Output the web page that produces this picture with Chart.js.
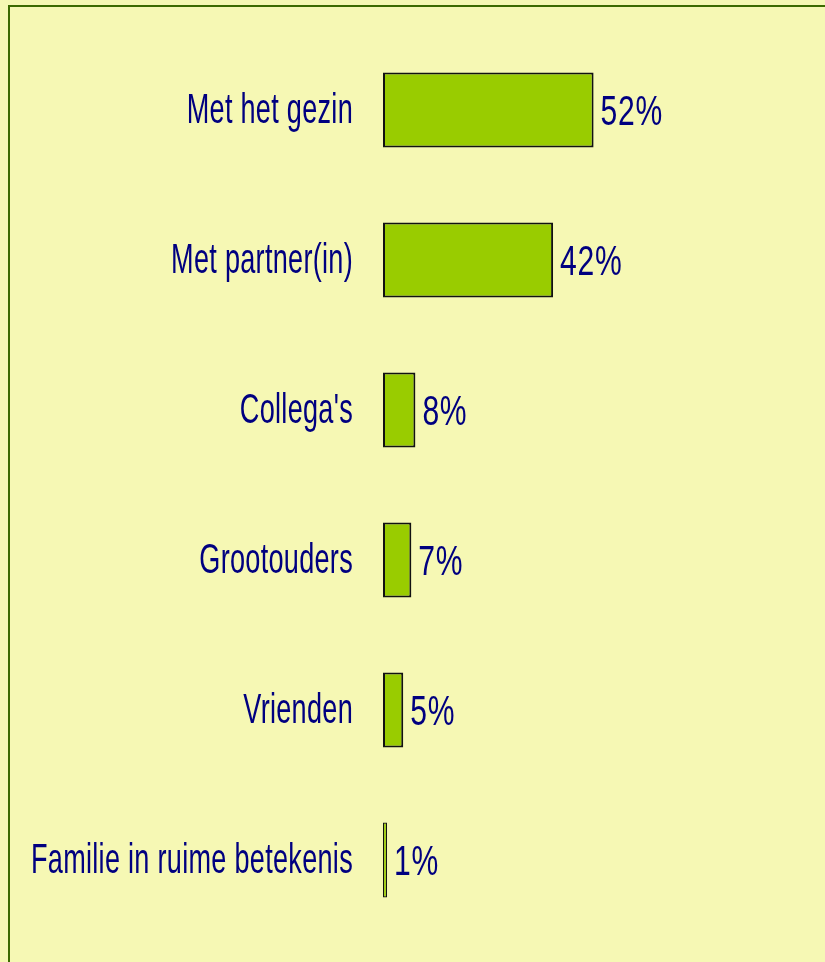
<!DOCTYPE html>
<html>
<head>
<meta charset="utf-8">
<script src="https://cdn.jsdelivr.net/npm/chart.js@4/dist/chart.umd.min.js"></script>
<style>
    html, body { margin: 0; padding: 0; background: #f6f8b4; overflow: hidden; }
    #frame {
        position: absolute; left: 8px; top: 5px; width: 830px; height: 970px;
        border-left: 2px solid #3b6a00; border-top: 2px solid #3b6a00;
    }
    #wrap { position: absolute; left: 0; top: 0; width: 825px; height: 962px; }
</style>
</head>
<body>
<div id="frame"></div>
<div id="wrap"><canvas id="barChart"></canvas></div>
<script>
const categories = [
    "Met het gezin",
    "Met partner(in)",
    "Collega's",
    "Grootouders",
    "Vrienden",
    "Familie in ruime betekenis",
];
const percentages = [52, 42, 8, 7, 5, 1];

const navy = "#000080";
const fontFamily = "'Liberation Sans', Arial, sans-serif";
const fontSize = 43;

// the original uses a condensed face, so squeeze regular text horizontally
function drawNarrow(ctx, text, x, y, align, squeeze) {
    ctx.save();
    ctx.translate(x, y);
    ctx.scale(squeeze, 1);
    ctx.textAlign = align;
    ctx.fillText(text, 0, 0);
    ctx.restore();
}

// category labels + "52%" labels, placed from the chart's own scales
const narrowLabels = {
    id: "narrowLabels",
    afterDatasetsDraw(chart) {
        const ctx = chart.ctx;
        const yScale = chart.scales.y;
        const meta = chart.getDatasetMeta(0);
        ctx.save();
        ctx.fillStyle = navy;
        ctx.font = fontSize + "px " + fontFamily;
        ctx.textBaseline = "alphabetic";
        ctx.letterSpacing = "0.45px";
        chart.data.labels.forEach((label, i) => {
            const y = yScale.getPixelForTick(i);
            drawNarrow(ctx, label, yScale.right - 30, y + 13, "right", 0.63);
        });
        ctx.letterSpacing = "1px";
        meta.data.forEach((bar, i) => {
            drawNarrow(ctx, percentages[i] + "%", bar.x + 7, bar.y + 15, "left", 0.7);
        });
        ctx.restore();
    },
};

new Chart(document.getElementById("barChart"), {
    type: "bar",
    data: {
        labels: categories,
        datasets: [
            {
                data: percentages,
                backgroundColor: "#99cc00",
                borderColor: "#111111",
                borderWidth: (c) => (c.raw < 3 ? 1.2 : 2),
                borderSkipped: false,
                categoryPercentage: 1,
                barPercentage: 0.5,
            },
        ],
    },
    options: {
        indexAxis: "y",
        responsive: true,
        maintainAspectRatio: false,
        animation: false,
        layout: { padding: { top: 35, bottom: 27, right: 37, left: 0 } },
        plugins: {
            legend: { display: false },
            tooltip: { enabled: false },
        },
        scales: {
            x: { display: false, min: 0, max: 100 },
            y: {
                grid: { display: false },
                border: { display: false },
                ticks: { display: false },
                afterFit: (scale) => { scale.width = 383; },
            },
        },
    },
    plugins: [narrowLabels],
});
</script>
</body>
</html>
